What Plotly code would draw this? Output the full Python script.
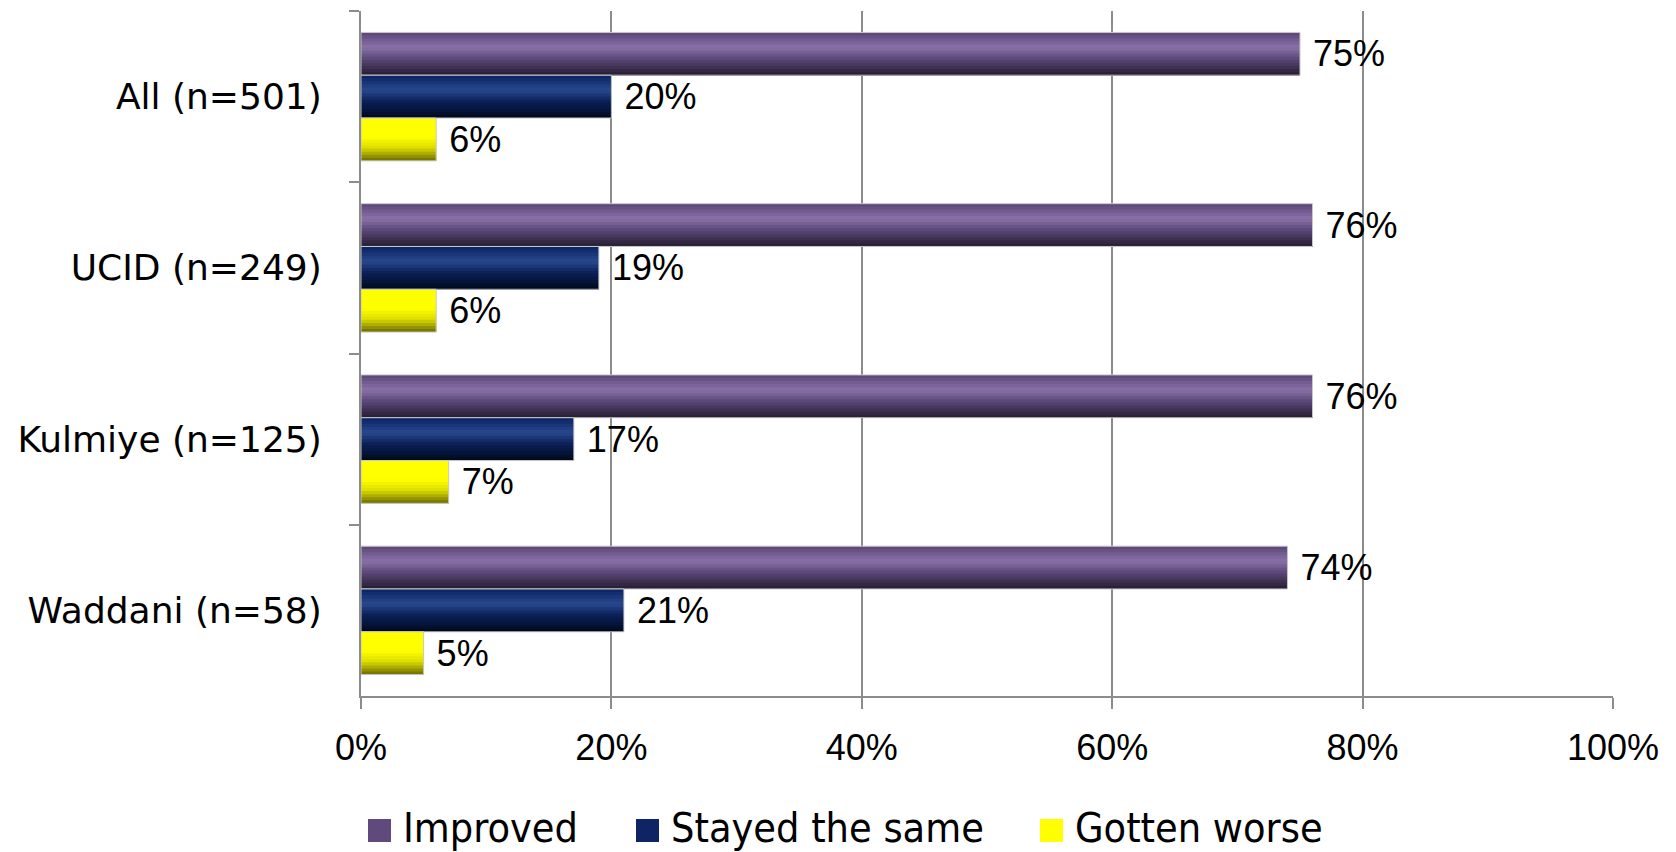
import plotly.graph_objects as go

# data
categories = ["All (n=501)", "UCID (n=249)", "Kulmiye (n=125)", "Waddani (n=58)"]
series_names = ["Improved", "Stayed the same", "Gotten worse"]
improved = [0.75, 0.76, 0.76, 0.74]
stayed_same = [0.20, 0.19, 0.17, 0.21]
gotten_worse = [0.06, 0.06, 0.07, 0.05]
x_ticks = [0, 0.2, 0.4, 0.6, 0.8, 1.0]

colors = ["#604A7B", "#0F2464", "#FFFF00"]
# vertical shading of each bar (fraction from top edge, colour)
shading = [
    [(0.0, "#5a4676"), (0.35, "#8a72a8"), (0.6, "#5e4a7c"), (0.85, "#3a2d4c"), (1.0, "#261c30")],
    [(0.0, "#0a2262"), (0.35, "#29498e"), (0.6, "#0c2158"), (0.85, "#041236"), (1.0, "#000818")],
    [(0.0, "#ffff00"), (0.45, "#ffff00"), (0.7, "#dcdc00"), (1.0, "#6a6a00")],
]

N_BANDS = 14
BAR_W = 0.25
num_font = "Liberation Sans, Arial, sans-serif"

W, H = 1676, 852
M = dict(l=361, r=63, t=11, b=156)
PW, PH = W - M["l"] - M["r"], H - M["t"] - M["b"]


def hex2rgb(h):
    h = h.lstrip("#")
    return [int(h[i:i + 2], 16) for i in (0, 2, 4)]


def grad(stops, t):
    for (t0, c0), (t1, c1) in zip(stops[:-1], stops[1:]):
        if t0 <= t <= t1:
            f = 0 if t1 == t0 else (t - t0) / (t1 - t0)
            a, b = hex2rgb(c0), hex2rgb(c1)
            return "rgb({},{},{})".format(*[round(a[i] + (b[i] - a[i]) * f) for i in range(3)])
    return stops[-1][1]


# figure pixel -> paper coords (for the legend below the axis)
def px(x):
    return (x - M["l"]) / PW


def py(y):
    return (H - M["b"] - y) / PH


fig = go.Figure()

for s, vals in enumerate([improved, stayed_same, gotten_worse]):
    base = -0.375 + BAR_W * s
    # shaded bands, each running down to the bar's bottom edge
    for k in range(N_BANDS):
        t0 = k / N_BANDS
        fig.add_bar(
            y=categories, x=vals, orientation="h",
            offset=base + BAR_W * t0, width=BAR_W * (1 - t0),
            marker=dict(color=grad(shading[s], (k + 0.5) / N_BANDS), line=dict(width=0)),
            showlegend=False, hoverinfo="skip",
        )
    # outline + value labels
    fig.add_bar(
        y=categories, x=vals, orientation="h",
        offset=base, width=BAR_W, name=series_names[s],
        marker=dict(color="rgba(0,0,0,0)", line=dict(color="#c8c8c8", width=1)),
        text=["\u00a0" + f"{v:.0%}" for v in vals],
        textposition="outside", constraintext="none", cliponaxis=False,
        textfont=dict(family=num_font, size=36, color="black"),
        showlegend=False,
    )

# legend row (drawn as swatches + labels so it doesn't squeeze the plot area)
legend_left = [368, 636, 1040]   # swatch left edge, px
sw, sw_mid, text_mid = 23, 830.5, 828
legend_font = dict(family="DejaVu Sans Condensed, DejaVu Sans, sans-serif", size=41, color="black")
for x0, name, col in zip(legend_left, series_names, colors):
    fig.add_shape(type="rect", xref="paper", yref="paper",
                  x0=px(x0), x1=px(x0 + sw), y0=py(sw_mid - sw / 2), y1=py(sw_mid + sw / 2),
                  fillcolor=col, line=dict(width=0))
    fig.add_annotation(x=px(x0 + sw + 11), y=py(text_mid), xref="paper", yref="paper",
                       xanchor="left", yanchor="middle", text=name, showarrow=False,
                       font=legend_font, borderpad=0)

fig.update_layout(
    width=W, height=H,
    margin=M,
    barmode="overlay",
    plot_bgcolor="white", paper_bgcolor="white",
    showlegend=False,
    xaxis=dict(
        range=[0, 1], tickvals=x_ticks, tickformat=".0%",
        showgrid=True, gridcolor="#8c8c8c", gridwidth=2,
        showline=True, linecolor="#8c8c8c", linewidth=2,
        ticks="outside", ticklen=11, tickcolor="#8c8c8c", tickwidth=2,
        zeroline=False, automargin=False, ticklabelstandoff=8,
        tickfont=dict(family=num_font, size=36, color="black"),
    ),
    yaxis=dict(
        categoryorder="array", categoryarray=categories,
        range=[3.5, -0.5],
        tickson="boundaries", ticks="outside", ticklen=10,
        tickcolor="#8c8c8c", tickwidth=2,
        showline=True, linecolor="#8c8c8c", linewidth=2,
        showgrid=False, zeroline=False, automargin=False,
        ticklabelstandoff=30,
        tickfont=dict(family="DejaVu Sans, Verdana, sans-serif", size=36, color="black"),
    ),
)

# drop the browser's default body margin so the figure fills the window exactly
fig.write_html("out.html", config={"displayModeBar": False},
               post_script="document.body.style.margin='0';")
